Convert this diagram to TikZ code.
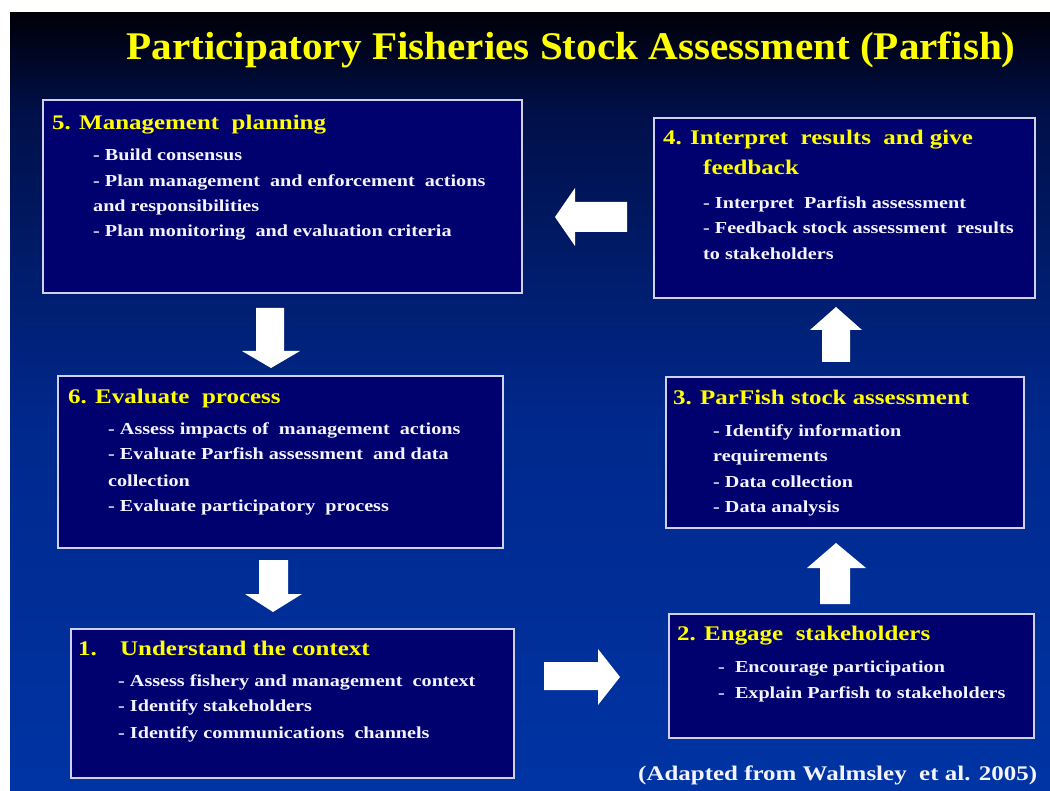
\documentclass[tikz,border=0pt]{standalone}
\usepackage{fontspec}
\setmainfont{Liberation Serif}[FakeStretch=1.2]
\newfontfamily\titlefont{Liberation Serif}[FakeStretch=1.05]
\definecolor{bgA}{HTML}{000008}
\definecolor{bgB}{HTML}{000F48}
\definecolor{bgC}{HTML}{00288C}
\definecolor{bgD}{HTML}{0034A4}
\definecolor{boxc}{HTML}{00006E}
\definecolor{bordc}{HTML}{D0D0E8}
\definecolor{yel}{HTML}{FFFF00}
\definecolor{txtc}{HTML}{F4F4FF}
\tikzset{
  stage/.style={draw=bordc, line width=2pt, fill=boxc, inner sep=0pt, anchor=north west},
  hd/.style={anchor=base west, inner sep=0pt, text=yel, font=\bfseries\fontsize{20.8}{24}\selectfont},
  bl/.style={anchor=base west, inner sep=0pt, text=txtc, font=\bfseries\fontsize{16.8}{20}\selectfont},
  barrow/.style={fill=white, draw=none}
}
\begin{document}
\begin{tikzpicture}[x=1pt,y=-1pt]
\useasboundingbox (0,0) rectangle (1050,791);
\fill[white] (0,0) rectangle (1050,791);
% background
\shade[top color=bgA, bottom color=bgB] (10,13) rectangle (1050,111);
\shade[top color=bgB, bottom color=bgC] (10,110) rectangle (1050,421);
\shade[top color=bgC, bottom color=bgD] (10,420) rectangle (1050,791);
% title
\node[anchor=base, inner sep=0pt, text=yel, font=\titlefont\bfseries\fontsize{39.2}{44}\selectfont] (title) at (571,60) {Participatory Fisheries Stock Assessment (Parfish)};
% boxes
\node[stage, minimum width=479pt, minimum height=193pt] (b5) at (42,99) {};
\node[stage, minimum width=381pt, minimum height=180pt] (b4) at (653,117) {};
\node[stage, minimum width=445pt, minimum height=172pt] (b6) at (57,375) {};
\node[stage, minimum width=358pt, minimum height=151pt] (b3) at (665,376) {};
\node[stage, minimum width=443pt, minimum height=149pt] (b1) at (70,628) {};
\node[stage, minimum width=365pt, minimum height=124pt] (b2) at (668,613) {};
% box 5
\node[hd] (h5) at (52,130) {5. Management~ planning};
\node[bl] (l5a) at (93,160.5) {- Build consensus};
\node[bl] (l5b) at (93,186.5) {- Plan management~ and enforcement~ actions};
\node[bl] (l5c) at (93,212) {and responsibilities};
\node[bl] (l5d) at (93,237) {- Plan monitoring~ and evaluation criteria};
% box 4
\node[hd] (h4) at (663,144.5) {4. Interpret~ results~ and give};
\node[hd] (h4b) at (703,175) {feedback};
\node[bl] (l4a) at (703,209) {- Interpret~ Parfish assessment};
\node[bl] (l4b) at (703,234) {- Feedback stock assessment~ results};
\node[bl] (l4c) at (703,259.5) {to stakeholders};
% box 6
\node[hd] (h6) at (68,403.5) {6. Evaluate~ process};
\node[bl] (l6a) at (108,435) {- Assess impacts of~ management~ actions};
\node[bl] (l6b) at (108,460) {- Evaluate Parfish assessment~ and data};
\node[bl] (l6c) at (108,486.5) {collection};
\node[bl] (l6d) at (108,511.5) {- Evaluate participatory~ process};
% box 3
\node[hd] (h3) at (673,405) {3. ParFish stock assessment};
\node[bl] (l3a) at (713,436.5) {- Identify information};
\node[bl] (l3b) at (713,461.5) {requirements};
\node[bl] (l3c) at (713,488) {- Data collection};
\node[bl] (l3d) at (713,512.5) {- Data analysis};
% box 1
\node[hd] (h1n) at (78,655) {1.};
\node[hd] (h1) at (120,655) {Understand the context};
\node[bl] (l1a) at (118,686.5) {- Assess fishery and management~ context};
\node[bl] (l1b) at (118,711.5) {- Identify stakeholders};
\node[bl] (l1c) at (118,738) {- Identify communications~ channels};
% box 2
\node[hd] (h2) at (677,640) {2. Engage~ stakeholders};
\node[bl] (l2a) at (718,672.5) {-~ Encourage participation};
\node[bl] (l2b) at (718,698) {-~ Explain Parfish to stakeholders};
% caption
\node[anchor=base west, inner sep=0pt, text=txtc, font=\bfseries\fontsize{20.8}{24}\selectfont] (cap) at (638,780) {(Adapted from Walmsley~ et al. 2005)};
% block arrows
\fill[barrow] (555,217) -- (575,188) -- (575,202) -- (627,202) -- (627,232) -- (575,232) -- (575,246) -- cycle;
\fill[barrow] (256,308) -- (284,308) -- (284,351) -- (300,351) -- (271,368) -- (242,351) -- (256,351) -- cycle;
\fill[barrow] (259,560) -- (288,560) -- (288,594) -- (302,594) -- (273,612) -- (245,594) -- (259,594) -- cycle;
\fill[barrow] (836,307) -- (862,330) -- (850,330) -- (850,362) -- (822,362) -- (822,330) -- (810,330) -- cycle;
\fill[barrow] (836,543) -- (866,568) -- (850,568) -- (850,604) -- (820,604) -- (820,568) -- (807,568) -- cycle;
\fill[barrow] (544,662) -- (598,662) -- (598,649) -- (620,677) -- (598,705) -- (598,690) -- (544,690) -- cycle;
\end{tikzpicture}
\end{document}
